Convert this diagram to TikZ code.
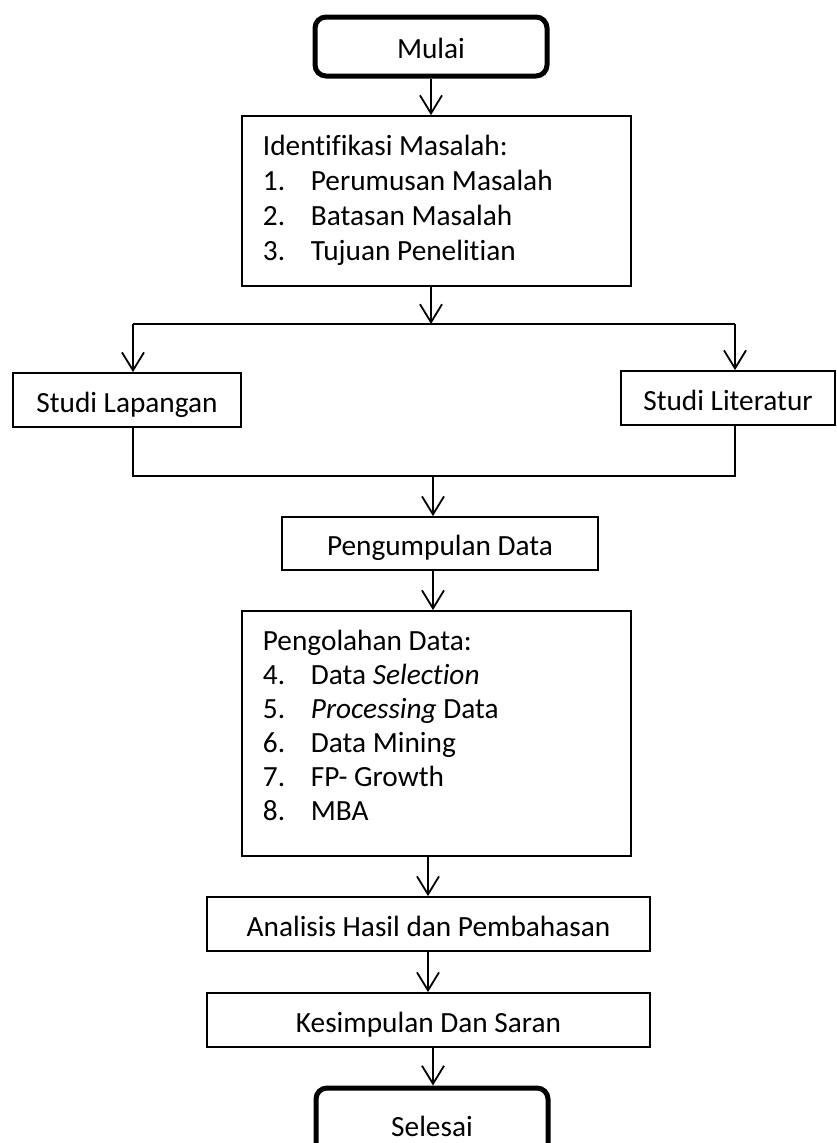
\documentclass[tikz,border=0pt]{standalone}
\usepackage{fontspec}
\setmainfont{Carlito}[Ligatures=NoCommon]
\usetikzlibrary{arrows.meta}
\begin{document}
\begin{tikzpicture}[x=1pt,y=-1pt,line width=1.8pt,
  lbl/.style={font=\fontsize{29.3}{35}\selectfont},
  box/.style={lbl,draw,rectangle,inner sep=0pt,text height=25pt,text depth=1pt},
  term/.style={box,rounded corners=11pt,line width=5pt},
  txt/.style={lbl,anchor=base west,inner sep=0pt},
  arr/.style={-{Straight Barb[length=18pt,width=22pt]}}]
\useasboundingbox (0,0) rectangle (837,1143);
\clip (0,0) rectangle (837,1143);

% nodes
\node[term,minimum width=232pt,minimum height=59pt] (mulai) at (431,46.5) {Mulai};
\node[box,minimum width=389pt,minimum height=170pt] (ident) at (436.5,201) {};
\node[txt] (i0) at (262,155) {Identifikasi Masalah:};
\node[txt] (i1n) at (262,190) {1.};
\node[txt] (i1) at (310,190) {Perumusan Masalah};
\node[txt] (i2n) at (262,225) {2.};
\node[txt] (i2) at (310,225) {Batasan Masalah};
\node[txt] (i3n) at (262,260) {3.};
\node[txt] (i3) at (310,260) {Tujuan Penelitian};

\node[box,minimum width=228pt,minimum height=54pt] (lap) at (127,400) {Studi Lapangan};
\node[box,minimum width=214pt,minimum height=54pt] (lit) at (728,398) {Studi Literatur};
\node[box,minimum width=316pt,minimum height=53pt] (kumpul) at (440,543.5) {Pengumpulan Data};

\node[box,minimum width=389pt,minimum height=245pt] (olah) at (436.5,733.5) {};
\node[txt] (o0) at (262,650) {Pengolahan Data:};
\node[txt] (o4n) at (262,684) {4.};
\node[txt] (o4) at (310,684) {Data \textit{Selection}};
\node[txt] (o5n) at (262,718) {5.};
\node[txt] (o5) at (310,718) {\textit{Processing} Data};
\node[txt] (o6n) at (262,752) {6.};
\node[txt] (o6) at (310,752) {Data Mining};
\node[txt] (o7n) at (262,786) {7.};
\node[txt] (o7) at (310,786) {FP- Growth};
\node[txt] (o8n) at (262,820) {8.};
\node[txt] (o8) at (310,820) {MBA};

\node[box,minimum width=443pt,minimum height=54pt] (anal) at (428.5,924) {Analisis Hasil dan Pembahasan};
\node[box,minimum width=443pt,minimum height=54pt] (kes) at (428.5,1020) {Kesimpulan Dan Saran};
\node[term,minimum width=232pt,minimum height=72pt] (sel) at (432,1124) {Selesai};

% junction coordinates
\coordinate (top) at (431,324);
\coordinate (s1) at (133,324);
\coordinate (s2) at (735,324);
\coordinate (j1) at (133,476);
\coordinate (j2) at (735,476);
\coordinate (jm) at (433,476);
\coordinate (c1) at (431,0);
\coordinate (c2) at (433,0);
\coordinate (c3) at (428,0);

% connectors
\draw[arr] (mulai.south -| c1) -- (ident.north -| c1);
\draw[arr] (ident.south -| c1) -- (top);
\draw (s1) -- (s2);
\draw[arr] (s1) -- (lap.north -| s1);
\draw[arr] (s2) -- (lit.north -| s2);
\draw (lap.south -| j1) -- (j1) -- (j2) -- (lit.south -| j2);
\draw[arr] (jm) -- (kumpul.north -| jm);
\draw[arr] (kumpul.south -| c2) -- (olah.north -| c2);
\draw[arr] (olah.south -| c3) -- (anal.north -| c3);
\draw[arr] (anal.south -| c3) -- (kes.north -| c3);
\draw[arr] (kes.south -| c2) -- (sel.north -| c2);
\end{tikzpicture}
\end{document}
